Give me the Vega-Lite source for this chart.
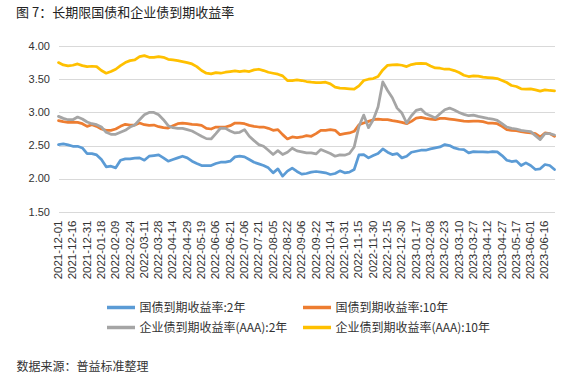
{
  "$schema": "https://vega.github.io/schema/vega-lite/v6.json",
  "width": 496,
  "height": 166,
  "autosize": {"type": "none"},
  "padding": {"left": 58.5, "top": 46, "right": 32.5, "bottom": 163},
  "background": "white",
  "title": {
    "text": "图 7：长期限国债和企业债到期收益率",
    "anchor": "start",
    "frame": "group",
    "dx": -42.5,
    "offset": 20,
    "font": "Noto Sans CJK SC",
    "fontSize": 13,
    "fontWeight": "normal",
    "color": "#222222"
  },
  "data": {
    "values": [
      {"d": "2021-12-01", "a": 2.515, "b": 2.875, "c": 2.94, "e": 3.75},
      {"d": "2021-12-06", "a": 2.525, "b": 2.86, "c": 2.91, "e": 3.715},
      {"d": "2021-12-11", "a": 2.51, "b": 2.85, "c": 2.89, "e": 3.70},
      {"d": "2021-12-16", "a": 2.49, "b": 2.855, "c": 2.89, "e": 3.71},
      {"d": "2021-12-21", "a": 2.49, "b": 2.85, "c": 2.93, "e": 3.73},
      {"d": "2021-12-26", "a": 2.465, "b": 2.83, "c": 2.90, "e": 3.705},
      {"d": "2021-12-31", "a": 2.38, "b": 2.79, "c": 2.855, "e": 3.69},
      {"d": "2022-01-06", "a": 2.38, "b": 2.815, "c": 2.83, "e": 3.695},
      {"d": "2022-01-12", "a": 2.36, "b": 2.79, "c": 2.815, "e": 3.69},
      {"d": "2022-01-18", "a": 2.29, "b": 2.75, "c": 2.78, "e": 3.63},
      {"d": "2022-01-25", "a": 2.18, "b": 2.73, "c": 2.70, "e": 3.59},
      {"d": "2022-02-02", "a": 2.19, "b": 2.73, "c": 2.67, "e": 3.615},
      {"d": "2022-02-09", "a": 2.165, "b": 2.75, "c": 2.67, "e": 3.65},
      {"d": "2022-02-14", "a": 2.28, "b": 2.79, "c": 2.70, "e": 3.705},
      {"d": "2022-02-19", "a": 2.30, "b": 2.82, "c": 2.73, "e": 3.75},
      {"d": "2022-02-24", "a": 2.30, "b": 2.81, "c": 2.78, "e": 3.78},
      {"d": "2022-03-01", "a": 2.31, "b": 2.81, "c": 2.81, "e": 3.79},
      {"d": "2022-03-06", "a": 2.315, "b": 2.84, "c": 2.89, "e": 3.84},
      {"d": "2022-03-11", "a": 2.28, "b": 2.815, "c": 2.965, "e": 3.855},
      {"d": "2022-03-16", "a": 2.34, "b": 2.805, "c": 3.00, "e": 3.83},
      {"d": "2022-03-22", "a": 2.35, "b": 2.81, "c": 3.00, "e": 3.83},
      {"d": "2022-03-28", "a": 2.36, "b": 2.785, "c": 2.965, "e": 3.84},
      {"d": "2022-04-02", "a": 2.315, "b": 2.77, "c": 2.89, "e": 3.83},
      {"d": "2022-04-08", "a": 2.265, "b": 2.765, "c": 2.80, "e": 3.80},
      {"d": "2022-04-14", "a": 2.29, "b": 2.80, "c": 2.77, "e": 3.79},
      {"d": "2022-04-19", "a": 2.315, "b": 2.83, "c": 2.76, "e": 3.78},
      {"d": "2022-04-24", "a": 2.34, "b": 2.84, "c": 2.76, "e": 3.765},
      {"d": "2022-04-29", "a": 2.315, "b": 2.83, "c": 2.74, "e": 3.75},
      {"d": "2022-05-06", "a": 2.265, "b": 2.82, "c": 2.72, "e": 3.73},
      {"d": "2022-05-12", "a": 2.23, "b": 2.815, "c": 2.68, "e": 3.69},
      {"d": "2022-05-19", "a": 2.20, "b": 2.805, "c": 2.64, "e": 3.63},
      {"d": "2022-05-25", "a": 2.20, "b": 2.76, "c": 2.605, "e": 3.59},
      {"d": "2022-05-31", "a": 2.20, "b": 2.75, "c": 2.60, "e": 3.58},
      {"d": "2022-06-06", "a": 2.23, "b": 2.78, "c": 2.68, "e": 3.60},
      {"d": "2022-06-11", "a": 2.25, "b": 2.78, "c": 2.765, "e": 3.59},
      {"d": "2022-06-16", "a": 2.25, "b": 2.78, "c": 2.76, "e": 3.605},
      {"d": "2022-06-21", "a": 2.265, "b": 2.80, "c": 2.72, "e": 3.615},
      {"d": "2022-06-26", "a": 2.33, "b": 2.84, "c": 2.69, "e": 3.625},
      {"d": "2022-07-01", "a": 2.34, "b": 2.84, "c": 2.70, "e": 3.615},
      {"d": "2022-07-06", "a": 2.33, "b": 2.83, "c": 2.74, "e": 3.625},
      {"d": "2022-07-11", "a": 2.29, "b": 2.805, "c": 2.64, "e": 3.615},
      {"d": "2022-07-16", "a": 2.25, "b": 2.79, "c": 2.575, "e": 3.64},
      {"d": "2022-07-21", "a": 2.225, "b": 2.78, "c": 2.515, "e": 3.65},
      {"d": "2022-07-26", "a": 2.20, "b": 2.78, "c": 2.49, "e": 3.63},
      {"d": "2022-07-31", "a": 2.165, "b": 2.76, "c": 2.43, "e": 3.605},
      {"d": "2022-08-05", "a": 2.09, "b": 2.73, "c": 2.365, "e": 3.59},
      {"d": "2022-08-10", "a": 2.15, "b": 2.74, "c": 2.425, "e": 3.575},
      {"d": "2022-08-16", "a": 2.04, "b": 2.665, "c": 2.365, "e": 3.55},
      {"d": "2022-08-22", "a": 2.115, "b": 2.60, "c": 2.40, "e": 3.48},
      {"d": "2022-08-27", "a": 2.16, "b": 2.63, "c": 2.46, "e": 3.48},
      {"d": "2022-09-01", "a": 2.11, "b": 2.62, "c": 2.42, "e": 3.49},
      {"d": "2022-09-06", "a": 2.07, "b": 2.63, "c": 2.405, "e": 3.48},
      {"d": "2022-09-11", "a": 2.08, "b": 2.65, "c": 2.39, "e": 3.465},
      {"d": "2022-09-16", "a": 2.10, "b": 2.64, "c": 2.39, "e": 3.455},
      {"d": "2022-09-22", "a": 2.11, "b": 2.68, "c": 2.375, "e": 3.45},
      {"d": "2022-09-29", "a": 2.10, "b": 2.73, "c": 2.44, "e": 3.45},
      {"d": "2022-10-07", "a": 2.09, "b": 2.73, "c": 2.41, "e": 3.455},
      {"d": "2022-10-14", "a": 2.065, "b": 2.74, "c": 2.38, "e": 3.43},
      {"d": "2022-10-19", "a": 2.08, "b": 2.73, "c": 2.34, "e": 3.38},
      {"d": "2022-10-25", "a": 2.12, "b": 2.665, "c": 2.36, "e": 3.365},
      {"d": "2022-10-31", "a": 2.09, "b": 2.68, "c": 2.355, "e": 3.36},
      {"d": "2022-11-05", "a": 2.10, "b": 2.69, "c": 2.38, "e": 3.355},
      {"d": "2022-11-10", "a": 2.14, "b": 2.715, "c": 2.48, "e": 3.35},
      {"d": "2022-11-15", "a": 2.36, "b": 2.815, "c": 2.79, "e": 3.40},
      {"d": "2022-11-20", "a": 2.365, "b": 2.84, "c": 2.96, "e": 3.48},
      {"d": "2022-11-25", "a": 2.315, "b": 2.865, "c": 2.77, "e": 3.50},
      {"d": "2022-11-30", "a": 2.35, "b": 2.89, "c": 2.89, "e": 3.51},
      {"d": "2022-12-05", "a": 2.38, "b": 2.90, "c": 3.08, "e": 3.54},
      {"d": "2022-12-10", "a": 2.45, "b": 2.89, "c": 3.46, "e": 3.64},
      {"d": "2022-12-15", "a": 2.40, "b": 2.89, "c": 3.33, "e": 3.71},
      {"d": "2022-12-20", "a": 2.365, "b": 2.875, "c": 3.22, "e": 3.715},
      {"d": "2022-12-25", "a": 2.38, "b": 2.865, "c": 3.065, "e": 3.72},
      {"d": "2022-12-30", "a": 2.315, "b": 2.85, "c": 2.99, "e": 3.71},
      {"d": "2023-01-05", "a": 2.34, "b": 2.83, "c": 2.84, "e": 3.69},
      {"d": "2023-01-11", "a": 2.40, "b": 2.865, "c": 2.95, "e": 3.72},
      {"d": "2023-01-17", "a": 2.415, "b": 2.915, "c": 3.03, "e": 3.735},
      {"d": "2023-01-24", "a": 2.43, "b": 2.925, "c": 3.05, "e": 3.74},
      {"d": "2023-02-01", "a": 2.43, "b": 2.91, "c": 2.98, "e": 3.735},
      {"d": "2023-02-08", "a": 2.45, "b": 2.90, "c": 2.95, "e": 3.70},
      {"d": "2023-02-13", "a": 2.465, "b": 2.89, "c": 2.915, "e": 3.67},
      {"d": "2023-02-18", "a": 2.48, "b": 2.91, "c": 2.98, "e": 3.665},
      {"d": "2023-02-23", "a": 2.515, "b": 2.91, "c": 3.04, "e": 3.65},
      {"d": "2023-02-28", "a": 2.50, "b": 2.90, "c": 3.065, "e": 3.65},
      {"d": "2023-03-05", "a": 2.465, "b": 2.89, "c": 3.035, "e": 3.63},
      {"d": "2023-03-10", "a": 2.445, "b": 2.88, "c": 3.00, "e": 3.60},
      {"d": "2023-03-15", "a": 2.44, "b": 2.87, "c": 2.97, "e": 3.56},
      {"d": "2023-03-21", "a": 2.39, "b": 2.865, "c": 2.95, "e": 3.54},
      {"d": "2023-03-27", "a": 2.41, "b": 2.87, "c": 2.96, "e": 3.55},
      {"d": "2023-04-01", "a": 2.405, "b": 2.87, "c": 2.94, "e": 3.545},
      {"d": "2023-04-07", "a": 2.405, "b": 2.86, "c": 2.925, "e": 3.53},
      {"d": "2023-04-12", "a": 2.40, "b": 2.84, "c": 2.91, "e": 3.525},
      {"d": "2023-04-17", "a": 2.41, "b": 2.84, "c": 2.90, "e": 3.52},
      {"d": "2023-04-22", "a": 2.405, "b": 2.83, "c": 2.88, "e": 3.51},
      {"d": "2023-04-27", "a": 2.35, "b": 2.79, "c": 2.83, "e": 3.48},
      {"d": "2023-05-04", "a": 2.28, "b": 2.74, "c": 2.78, "e": 3.45},
      {"d": "2023-05-10", "a": 2.26, "b": 2.73, "c": 2.76, "e": 3.405},
      {"d": "2023-05-17", "a": 2.27, "b": 2.725, "c": 2.75, "e": 3.39},
      {"d": "2023-05-22", "a": 2.20, "b": 2.71, "c": 2.73, "e": 3.355},
      {"d": "2023-05-27", "a": 2.24, "b": 2.70, "c": 2.72, "e": 3.35},
      {"d": "2023-06-01", "a": 2.20, "b": 2.69, "c": 2.71, "e": 3.355},
      {"d": "2023-06-06", "a": 2.14, "b": 2.68, "c": 2.65, "e": 3.34},
      {"d": "2023-06-11", "a": 2.15, "b": 2.63, "c": 2.59, "e": 3.32},
      {"d": "2023-06-16", "a": 2.215, "b": 2.69, "c": 2.68, "e": 3.34},
      {"d": "2023-06-21", "a": 2.20, "b": 2.68, "c": 2.68, "e": 3.33},
      {"d": "2023-06-27", "a": 2.14, "b": 2.64, "c": 2.66, "e": 3.325}
    ]
  },
  "transform": [
    {"fold": ["a", "b", "c", "e"], "as": ["k", "v"]},
    {
      "lookup": "k",
      "from": {
        "data": {
          "values": [
            {"k": "a", "s": "国债到期收益率:2年"},
            {"k": "b", "s": "国债到期收益率:10年"},
            {"k": "c", "s": "企业债到期收益率(AAA):2年"},
            {"k": "e", "s": "企业债到期收益率(AAA):10年"}
          ]
        },
        "key": "k",
        "fields": ["s"]
      }
    }
  ],
  "mark": {"type": "line", "strokeWidth": 2.75, "strokeCap": "round", "strokeJoin": "round"},
  "encoding": {
    "x": {
      "field": "d",
      "type": "ordinal",
      "sort": "ascending",
      "scale": {"type": "point", "padding": 0},
      "axis": {
        "values": ["2021-12-01", "2021-12-16", "2021-12-31", "2022-01-18", "2022-02-09", "2022-02-24", "2022-03-11", "2022-03-28", "2022-04-14", "2022-04-29", "2022-05-19", "2022-06-06", "2022-06-21", "2022-07-06", "2022-07-21", "2022-08-05", "2022-08-22", "2022-09-06", "2022-09-22", "2022-10-14", "2022-10-31", "2022-11-15", "2022-11-30", "2022-12-15", "2022-12-30", "2023-01-17", "2023-02-08", "2023-02-23", "2023-03-10", "2023-03-27", "2023-04-12", "2023-04-27", "2023-05-17", "2023-06-01", "2023-06-16"],
        "labelAngle": -90,
        "labelOverlap": false,
        "labelPadding": 8,
        "labelFont": "Liberation Sans",
        "labelFontSize": 11.5,
        "labelColor": "#333333",
        "domain": false,
        "ticks": false,
        "grid": false,
        "title": "数据来源：普益标准整理",
        "titleX": -42.5,
        "titleY": 154,
        "titleAlign": "left",
        "titleAngle": 0,
        "titleBaseline": "middle",
        "titleFont": "Noto Sans CJK SC",
        "titleFontSize": 12,
        "titleFontWeight": "normal",
        "titleColor": "#333333"
      }
    },
    "y": {
      "field": "v",
      "type": "quantitative",
      "scale": {"domain": [1.5, 4.0], "nice": false, "zero": false},
      "axis": {
        "values": [1.5, 2, 2.5, 3, 3.5, 4],
        "format": ".2f",
        "domain": false,
        "ticks": false,
        "labelPadding": 9,
        "labelFont": "Liberation Sans",
        "labelFontSize": 11,
        "labelColor": "#333333",
        "gridColor": "#d9d9d9",
        "gridWidth": 1,
        "title": null
      }
    },
    "color": {
      "field": "s",
      "type": "nominal",
      "scale": {
        "domain": ["国债到期收益率:2年", "国债到期收益率:10年", "企业债到期收益率(AAA):2年", "企业债到期收益率(AAA):10年"],
        "range": ["#5B9BD5", "#ED7D31", "#A5A5A5", "#FFC000"]
      },
      "legend": {
        "orient": "none",
        "legendX": 53.5,
        "legendY": 252.5,
        "columns": 2,
        "direction": "horizontal",
        "title": null,
        "symbolType": "M-2,0L2,0",
        "symbolSize": 196,
        "symbolStrokeWidth": 3.5,
        "labelFont": "Noto Sans CJK SC",
        "labelFontSize": 12,
        "labelColor": "#333333",
        "labelOffset": 9.5,
        "labelLimit": 300,
        "columnPadding": 8,
        "rowPadding": 4
      }
    }
  },
  "config": {"view": {"stroke": null}}
}
